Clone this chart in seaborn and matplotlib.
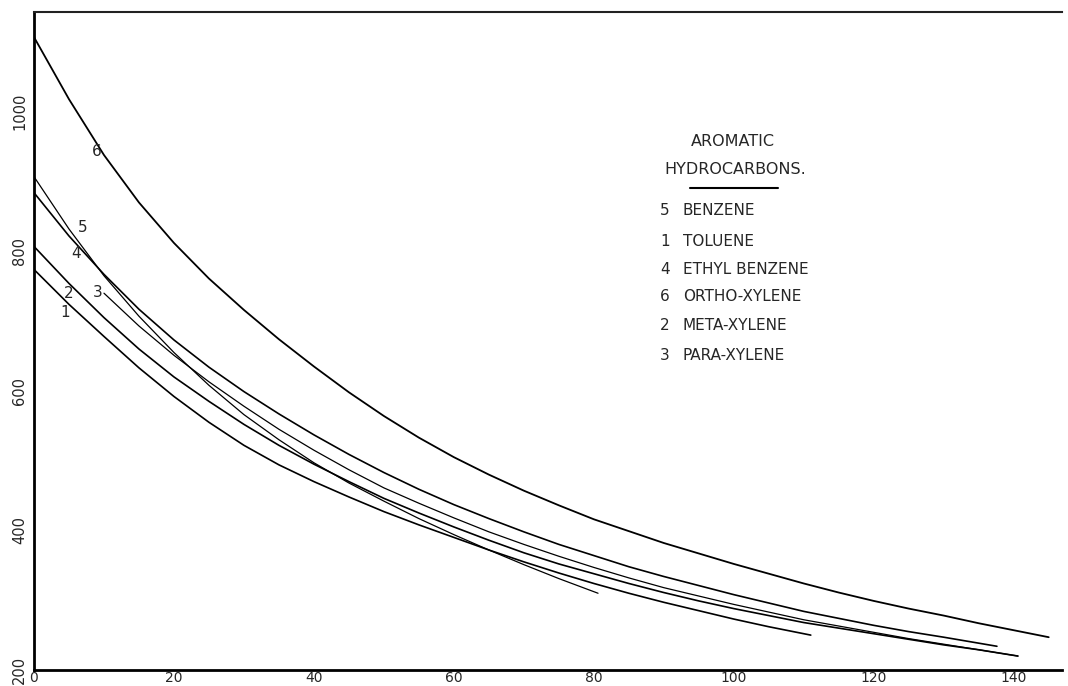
import pandas as pd
import matplotlib.pyplot as plt
import seaborn as sns

sns.set_style("white")
plt.rcParams["font.family"] = ["DejaVu Sans"]

# viscosity curves (temperature, value)
benzene_t = [0, 5, 10, 15, 20, 25, 30, 35, 40, 45, 50, 55, 60, 65, 70, 75, 80.6]
benzene_v = [907, 832, 765, 707, 655, 608, 566, 530, 497, 468, 442, 417, 394, 372, 351, 331, 310]

toluene_t = [0, 5, 10, 15, 20, 25, 30, 35, 40, 45, 50, 55, 60, 65, 70, 75, 80,
             85, 90, 95, 100, 105, 111]
toluene_v = [774, 724, 678, 633, 592, 555, 522, 494, 470, 448, 427, 408, 390, 372, 355, 339, 324,
             310, 297, 285, 273, 262, 250]

ethyl_t = [0, 5, 10, 15, 20, 25, 30, 35, 40, 45, 50, 55, 60, 65, 70, 75, 80,
           85, 90, 95, 100, 105, 110, 115, 120, 125, 130, 137.6]
ethyl_v = [884, 822, 767, 717, 673, 634, 599, 567, 537, 509, 483, 459, 437, 417, 398, 380, 364,
           348, 334, 321, 308, 296, 284, 274, 264, 255, 247, 234]

ortho_t = [0, 5, 10, 15, 20, 25, 30, 35, 40, 45, 50, 55, 60, 65, 70, 75, 80,
           85, 90, 95, 100, 105, 110, 115, 120, 125, 130, 135, 140, 145]
ortho_v = [1107, 1018, 938, 870, 812, 761, 716, 674, 635, 598, 564, 533, 505, 480, 457, 436, 416,
           399, 382, 367, 352, 338, 324, 311, 299, 288, 278, 267, 257, 247]

meta_t = [0, 5, 10, 15, 20, 25, 30, 35, 40, 45, 50, 55, 60, 65, 70, 75, 80,
          85, 90, 95, 100, 105, 110, 115, 120, 125, 130, 135, 140.6]
meta_v = [807, 754, 705, 660, 620, 585, 552, 522, 495, 470, 446, 425, 405, 386, 368, 352, 338,
          324, 311, 299, 288, 278, 268, 260, 252, 244, 236, 229, 220]

para_t = [10, 15, 20, 25, 30, 35, 40, 45, 50, 55, 60, 65, 70, 75, 80,
          85, 90, 95, 100, 105, 110, 115, 120, 125, 130, 135, 140.6]
para_v = [740, 693, 651, 613, 578, 545, 515, 487, 461, 439, 418, 398, 380, 363, 347,
          332, 318, 306, 294, 283, 272, 263, 254, 245, 237, 229, 220]

curve_ids = ["5", "1", "4", "6", "2", "3"]
names = ["BENZENE", "TOLUENE", "ETHYL BENZENE", "ORTHO-XYLENE", "META-XYLENE", "PARA-XYLENE"]
temps = [benzene_t, toluene_t, ethyl_t, ortho_t, meta_t, para_t]
values = [benzene_v, toluene_v, ethyl_v, ortho_v, meta_v, para_v]
widths = [0.9, 1.2, 1.2, 1.3, 1.2, 0.9]

# where the little numbers sit next to the curves
label_pos = {"6": (9.0, 943), "5": (6.9, 834), "4": (6.0, 797),
             "2": (5.0, 739), "3": (9.1, 741), "1": (4.4, 713)}

rows = []
for cid, ts, vs in zip(curve_ids, temps, values):
    for t, v in zip(ts, vs):
        rows.append({"curve": cid, "temp": t, "value": v})
df = pd.DataFrame(rows)

fig = plt.figure(figsize=(10.68, 6.86), dpi=100)
ax = fig.add_axes([34 / 1068, 16 / 686, 1028 / 1068, 658 / 686])

for cid, lw in zip(curve_ids, widths):
    sns.lineplot(data=df[df["curve"] == cid], x="temp", y="value",
                 estimator=None, sort=True, color="black",
                 linewidth=lw, legend=False, ax=ax)

ax.set_xlim(0, 146.9)
ax.set_ylim(200, 1143)
ax.set_xticks(range(0, 141, 20))
ax.set_yticks(range(200, 1001, 200))
ax.set_xlabel("")
ax.set_ylabel("")
ax.tick_params(axis="x", length=0, labelsize=10, pad=1)
ax.tick_params(axis="y", length=0, labelsize=10.5, pad=5)
for lab in ax.get_yticklabels():
    lab.set_rotation(90)
    lab.set_va("center")

for side in ["left", "bottom"]:
    ax.spines[side].set_linewidth(2)
    ax.spines[side].set_color("black")
ax.spines["top"].set_linewidth(1.5)
ax.spines["top"].set_color("#222222")
ax.spines["right"].set_visible(False)

for cid, (x, y) in label_pos.items():
    ax.text(x, y, cid, fontsize=11, ha="center", va="center")

# key
fig.text(733 / 1068, 1 - 142 / 686, "AROMATIC", fontsize=11.5, ha="center", va="center")
fig.text(735 / 1068, 1 - 170 / 686, "HYDROCARBONS.", fontsize=11.5, ha="center", va="center")
fig.add_artist(plt.Line2D([690 / 1068, 778 / 1068], [1 - 188 / 686] * 2,
                          color="black", linewidth=1.5))
key_y = [211, 241, 270, 297, 325, 355]
for cid, name, y in zip(curve_ids, names, key_y):
    fig.text(665 / 1068, 1 - y / 686, cid, fontsize=11, ha="center", va="center")
    fig.text(683 / 1068, 1 - y / 686, name, fontsize=11, ha="left", va="center")

fig.savefig("out.png", dpi=100)
